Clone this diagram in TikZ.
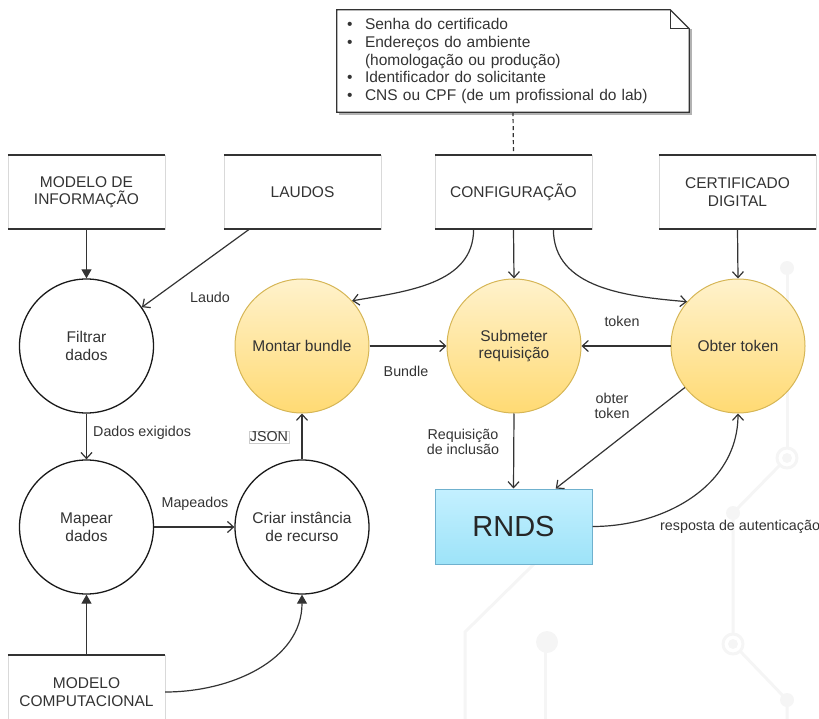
\documentclass[tikz,border=0pt]{standalone}
\usepackage{fontspec}
\setmainfont{Liberation Sans}
\usetikzlibrary{arrows.meta}

\definecolor{txt}{HTML}{333333}
\definecolor{ln}{HTML}{333333}
\definecolor{procTop}{HTML}{FFF2CC}
\definecolor{procBot}{HTML}{FFDA73}
\definecolor{procLine}{HTML}{D6B656}
\definecolor{rndsTop}{HTML}{C4F0FF}
\definecolor{rndsBot}{HTML}{9DE3F8}
\definecolor{rndsLine}{HTML}{6FB1CE}
\definecolor{circuit}{HTML}{F5F5F5}

\newcommand{\notebullet}{\makebox[18pt][l]{\textbullet}}

\begin{document}
\begin{tikzpicture}[x=1pt,y=1pt,
    store/.style={minimum width=157pt,minimum height=74pt,draw=black!15,align=center,text=txt,font=\fontsize{15.5}{17.5}\selectfont},
    proc/.style={circle,minimum size=134pt,inner sep=0pt,align=center,text=txt,font=\fontsize{15.5}{17.5}\selectfont},
    plain/.style={proc,draw=black!90,line width=1.3pt,fill=white},
    gold/.style={proc,draw=procLine,line width=1pt,top color=procTop,bottom color=procBot},
    lbl/.style={text=txt,font=\fontsize{14.3}{15.5}\selectfont,align=center,inner sep=1pt},
    flow/.style={draw=ln,line width=1.2pt,-{Straight Barb[length=6pt,width=11pt]}},
    feed/.style={draw=ln,line width=1.2pt,-{Triangle[length=9pt,width=10pt]}},
    storeline/.style={draw=ln,line width=2pt},
    notebox/.style={draw=ln,line width=1.2pt},
    circuit/.style={draw=circuit,line width=3pt}]
    \useasboundingbox (0,0) rectangle (819,-719);

    % faint background
    \draw[circuit] (787,-268) -- (787,-448);
    \draw[circuit] (780,-465) -- (733,-513) -- (733,-634);
    \draw[circuit] (740,-651) -- (787,-700) -- (787,-719);
    \draw[circuit] (535,-563) -- (465,-632) -- (465,-719);
    \draw[circuit] (545,-642) -- (545,-719);
    \draw[circuit] (787,-458) circle (10pt) (733,-644) circle (10pt);
    \fill[fill=circuit] (787,-268) circle (7pt) (733,-513) circle (7pt)
        (787,-700) circle (7pt) (787,-458) circle (5pt)
        (733,-644) circle (5pt) (547,-642) circle (11pt);

    % note
    \node (note) at (513,-61) [minimum width=352pt,minimum height=102pt,inner xsep=10pt,
        text width=332pt,align=left,text=txt,font=\fontsize{15.5}{17.7}\selectfont]
        {\notebullet Senha do certificado\\
         \notebullet Endereços do ambiente\\
         \hspace*{18pt}(homologação ou produção)\\
         \notebullet Identificador do solicitante\\
         \notebullet CNS ou CPF (de um profissional do lab)};
    \draw[draw=black!30,line width=1.5pt]
        ([shift={(2pt,-2pt)}]note.south west) -- ([shift={(2pt,-2pt)}]note.south east)
        -- ([shift={(2pt,-19pt)}]note.north east);
    \draw[notebox] (note.north west) -- ([xshift=-19pt]note.north east)
        -- ([yshift=-19pt]note.north east) -- (note.south east) -- (note.south west) -- cycle;
    \draw[notebox] ([xshift=-19pt]note.north east) |- ([yshift=-19pt]note.north east);

    % stores
    \node (modinfo) at (86.5,-192) [store] {MODELO DE\\INFORMAÇÃO};
    \node (laudos) at (302.5,-192) [store] {LAUDOS};
    \node (config) at (513.5,-192) [store] {CONFIGURAÇÃO};
    \node (cert) at (737.5,-192) [store] {CERTIFICADO\\DIGITAL};
    \node (modcomp) at (86.5,-692) [store] {MODELO\\COMPUTACIONAL};
    \foreach \s in {modinfo,laudos,config,cert,modcomp}
        \draw[storeline] (\s.north west) -- (\s.north east) (\s.south west) -- (\s.south east);

    % processes
    \node (filtrar) at (86.5,-346) [plain] {Filtrar\\dados};
    \node (montar) at (302,-346) [gold] {Montar bundle};
    \node (submeter) at (514,-346) [gold] {Submeter\\requisição};
    \node (obter) at (738,-346) [gold] {Obter token};
    \node (mapear) at (86.5,-527) [plain] {Mapear\\dados};
    \node (criar) at (302,-527) [plain] {Criar instância\\de recurso};
    \node (rnds) at (513.5,-526.5) [minimum width=157pt,minimum height=75pt,draw=rndsLine,line width=1pt,
        top color=rndsTop,bottom color=rndsBot,text=black!85,font=\fontsize{29}{34}\selectfont] {RNDS};

    % labels
    \node[lbl] (lLaudo) at (210,-297) {Laudo};
    \node[lbl] (lBundle) at (406,-371) {Bundle};
    \node[lbl] (lToken) at (622,-321) {token};
    \node[lbl] (lReq) at (463,-442) {Requisição\\de inclusão};
    \node[lbl] (lObter) at (612,-406) {obter\\token};
    \node[lbl,anchor=west] (lResp) at (659,-527) {resposta de autenticação};
    \node[lbl,anchor=west] (lDados) at (92,-433) {Dados exigidos};
    \node[lbl] (lMap) at (195,-504) {Mapeados};
    \node[lbl,draw=black!20,line width=0.4pt,fill=white] (lJson) at (269,-437) {JSON};

    \draw[notebox,dash pattern=on 4pt off 3pt] (note.south) -- (config.north);

    \draw[feed] (modinfo.south) -- (filtrar.north);
    \draw[flow] (laudos.-145) -- (filtrar.35);
    \draw[flow] (config.-137) to [out=-90,in=10] (montar.42);
    \draw[flow] (config.south) -- (submeter.north);
    \draw[flow] (config.-43) to [out=-90,in=175] (obter.139);
    \draw[flow] (cert.south) -- (obter.north);
    \draw[flow] (montar.east) -- (submeter.west);
    \draw[flow] (obter.west) -- (submeter.east);
    \draw[flow] (submeter.south) -- (rnds.north);
    \draw[flow] (obter.218) -- (rnds.42);
    \draw[flow] (rnds.east) to [out=0,in=-90] (obter.south);
    \draw[flow] (filtrar.south) -- (mapear.north);
    \draw[flow] (mapear.east) -- (criar.west);
    \draw[flow] (criar.north) -- (montar.south);
    \draw[feed] (modcomp.north) -- (mapear.south);
    \draw[feed] (modcomp.east) to [out=0,in=-90] (criar.south);
\end{tikzpicture}
\end{document}
